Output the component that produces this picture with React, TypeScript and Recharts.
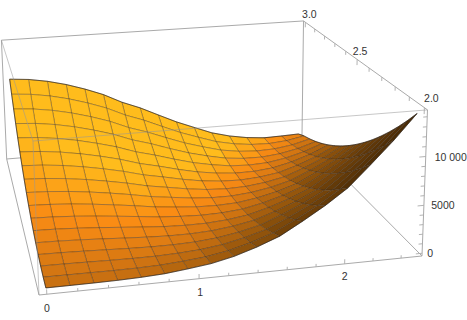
import React from 'react';
import { ScatterChart, Scatter, XAxis, YAxis } from 'recharts';

// ---- data ----
const xValues = [0, 0.15625, 0.3125, 0.46875, 0.625, 0.78125, 0.9375, 1.09375, 1.25, 1.40625, 1.5625, 1.71875, 1.875, 2.03125, 2.1875, 2.34375, 2.5];
const yValues = [2, 2.0625, 2.125, 2.1875, 2.25, 2.3125, 2.375, 2.4375, 2.5, 2.5625, 2.625, 2.6875, 2.75, 2.8125, 2.875, 2.9375, 3];
// one row per x value, one column per y value
const zRows = [
  [0, 39, 156, 352, 625, 977, 1406, 1914, 2500, 3164, 3906, 4727, 5625, 6602, 7656, 8789, 10000],
  [1, 28, 132, 315, 576, 915, 1332, 1828, 2401, 3053, 3782, 4590, 5476, 6440, 7482, 8603, 9801],
  [9, 11, 90, 248, 484, 798, 1190, 1661, 2209, 2836, 3540, 4323, 5184, 6123, 7140, 8236, 9409],
  [36, 0, 42, 163, 361, 638, 992, 1425, 1936, 2525, 3192, 3938, 4761, 5663, 6642, 7700, 8836],
  [100, 14, 6, 77, 225, 452, 756, 1139, 1600, 2139, 2756, 3452, 4225, 5077, 6006, 7014, 8100],
  [225, 77, 6, 14, 100, 264, 506, 827, 1225, 1702, 2256, 2889, 3600, 4389, 5256, 6202, 7225],
  [484, 248, 90, 11, 9, 86, 240, 473, 784, 1173, 1640, 2186, 2809, 3511, 4290, 5148, 6084],
  [784, 473, 240, 86, 9, 11, 90, 248, 484, 798, 1190, 1661, 2209, 2836, 3540, 4323, 5184],
  [1296, 885, 552, 298, 121, 23, 2, 60, 196, 410, 702, 1073, 1521, 2048, 2652, 3335, 4096],
  [2025, 1502, 1056, 689, 400, 189, 56, 2, 25, 127, 306, 564, 900, 1314, 1806, 2377, 3025],
  [2916, 2280, 1722, 1243, 841, 518, 272, 105, 16, 5, 72, 218, 441, 743, 1122, 1580, 2116],
  [4225, 3452, 2756, 2139, 1600, 1139, 756, 452, 225, 77, 6, 14, 100, 264, 506, 827, 1225],
  [5625, 4727, 3906, 3164, 2500, 1914, 1406, 977, 625, 352, 156, 39, 0, 39, 156, 352, 625],
  [7225, 6202, 5256, 4389, 3600, 2889, 2256, 1702, 1225, 827, 506, 264, 100, 14, 6, 77, 225],
  [9409, 8236, 7140, 6123, 5184, 4323, 3540, 2836, 2209, 1661, 1190, 798, 484, 248, 90, 11, 9],
  [11664, 10353, 9120, 7966, 6889, 5891, 4970, 4128, 3364, 2678, 2070, 1541, 1089, 716, 420, 203, 64],
  [14161, 12713, 11342, 10050, 8836, 7700, 6642, 5663, 4761, 3938, 3192, 2525, 1936, 1425, 992, 638, 150],
];
const xTicks = [0, 0.2, 0.4, 0.6, 0.8, 1, 1.2, 1.4, 1.6, 1.8, 2, 2.2, 2.4];
const xLabels = [0, 1, 2];
const yTicks = [2, 2.1, 2.2, 2.3, 2.4, 2.5, 2.6, 2.7, 2.8, 2.9, 3];
const yLabels = ['2.0', '2.5', '3.0'];
const zTicks = [0, 1000, 2000, 3000, 4000, 5000, 6000, 7000, 8000, 9000, 10000, 11000, 12000, 13000, 14000];
const zLabels = ['0', '5000', '10 000'];

// ---- plot box and camera ----
const X0 = -0.05, X1 = 2.55, Y0 = 1.98, Y1 = 3.02, Z0 = -288, Z1 = 14688;
const toCube = (x: number, y: number, z: number) => [(x - X0) / (X1 - X0), (y - Y0) / (Y1 - Y0), (z - Z0) / (Z1 - Z0)];
const depth = (u: number, v: number, w: number) => 1 + 0.0602 * u + 0.3214 * v - 0.03 * w;
const project = (x: number, y: number, z: number) => {
  const [u, v, w] = toCube(x, y, z);
  const d = depth(u, v, w);
  return {
    px: (39 + 408.4 * u - 30.15 * v - 7 * w) / d,
    py: (295 - 23.6 * u - 84.9 * v - 158.2 * w) / d,
  };
};

// ---- shading ----
const stops: [number, number[]][] = [
  [0, [72, 42, 6]],
  [0.35, [145, 84, 12]],
  [0.6, [212, 118, 18]],
  [0.78, [250, 140, 20]],
  [1, [255, 188, 28]],
];
const shade = (t0: number) => {
  const t = Math.max(0, Math.min(1, t0));
  for (let i = 1; i < stops.length; i++) {
    if (t <= stops[i][0]) {
      const [a, ca] = stops[i - 1];
      const [b, cb] = stops[i];
      const f = (t - a) / (b - a);
      return `rgb(${ca.map((c, k) => Math.round(c + (cb[k] - c) * f)).join(',')})`;
    }
  }
  return 'rgb(255,188,28)';
};

type Quad = { key: string; pts: { px: number; py: number }[]; fill: string; d: number };
const buildQuads = (): Quad[] => {
  const out: Quad[] = [];
  for (let i = 0; i < xValues.length - 1; i++) {
    for (let j = 0; j < yValues.length - 1; j++) {
      const c = [[i, j], [i + 1, j], [i + 1, j + 1], [i, j + 1]].map(([a, b]) => toCube(xValues[a], yValues[b], zRows[a][b]));
      const du = ((c[1][2] - c[0][2]) + (c[2][2] - c[3][2])) / 2 / (c[1][0] - c[0][0]);
      const dv = ((c[3][2] - c[0][2]) + (c[2][2] - c[1][2])) / 2 / (c[3][1] - c[0][1]);
      const sx = -0.4 * du, sy = -0.4 * dv;
      const len = Math.hypot(sx, sy, 1);
      const nu = sx / len, nv = sy / len, nw = 1 / len;
      const um = (c[0][0] + c[2][0]) / 2, vm = (c[0][1] + c[2][1]) / 2, wm = (c[0][2] + c[2][2]) / 2;
      const t = 0.65 + 0.5 * -nv + 0.56 * nu + 0.2 * vm - 0.1 * (1 - um) * (1 - vm) * 1.2 + 0.18 * (nw - 1);
      out.push({
        key: `q${i}-${j}`,
        pts: [[i, j], [i + 1, j], [i + 1, j + 1], [i, j + 1]].map(([a, b]) => project(xValues[a], yValues[b], zRows[a][b])),
        fill: shade(t),
        d: depth(um, vm, wm),
      });
    }
  }
  return out.sort((p, q) => q.d - p.d);
};
const quads = buildQuads();

const seg = (a: number[], b: number[]) => [project(a[0], a[1], a[2]), project(b[0], b[1], b[2])];
const backEdges = [
  seg([X0, Y1, Z1], [X1, Y1, Z1]), seg([X1, Y1, Z1], [X1, Y0, Z1]), seg([X0, Y1, Z0], [X1, Y1, Z0]),
  seg([X1, Y1, Z0], [X1, Y0, Z0]), seg([X0, Y1, Z0], [X0, Y0, Z0]), seg([X0, Y0, Z0], [X1, Y0, Z0]),
  seg([X0, Y1, Z0], [X0, Y1, Z1]), seg([X1, Y1, Z0], [X1, Y1, Z1]), seg([X1, Y0, Z0], [X1, Y0, Z1]),
];
const frontEdges = [seg([X0, Y0, Z1], [X0, Y1, Z1]), seg([X0, Y0, Z1], [X1, Y0, Z1]), seg([X0, Y0, Z0], [X0, Y0, Z1])];

const major = (v: number, list: (string | number)[]) => list.map(Number).includes(v);
const tickSegs = [
  ...xTicks.map((x) => seg([x, Y0, Z0], [x, Y0, Z0 + (major(x, xLabels) ? 480 : 300)])),
  ...yTicks.map((y) => seg([X1, y, Z1], [X1, y, Z1 - (major(y, yLabels) ? 650 : 420)])),
  ...zTicks.map((z) => seg([X1, Y0, z], [X1 - (major(z, [0, 5000, 10000]) ? 0.045 : 0.028), Y0, z])),
];

const rim = [
  ...xValues.map((x, i) => project(x, yValues[0], zRows[i][0])),
  ...yValues.map((y, j) => project(xValues[16], y, zRows[16][j])),
  ...xValues.map((x, i) => project(x, yValues[16], zRows[i][16])).reverse(),
  ...yValues.map((y, j) => project(xValues[0], y, zRows[0][j])).reverse(),
];

const labelOffset: Record<string, number[]> = {
  'x0': [0, 14], 'x1': [1, 13], 'x2': [0, 12],
  'y2.0': [7, -10], 'y2.5': [3, -8], 'y3.0': [4, -8],
  'z0': [8, 0], 'z5000': [19, 0], 'z10 000': [25, 0],
};
const labels = [
  ...xLabels.map((x) => ({ ...project(x, Y0, Z0), text: String(x), off: labelOffset['x' + x] })),
  ...yLabels.map((y) => ({ ...project(X1, Number(y), Z1), text: y, off: labelOffset['y' + y] })),
  ...zLabels.map((z) => ({ ...project(X1, Y0, Number(z.replace(' ', ''))), text: z, off: labelOffset['z' + z] })),
];

const nothing = () => <g />;
const polygon = (fill: string) => (p: any) => (
  <polygon
    points={p.points.map((q: any) => `${q.x},${q.y}`).join(' ')}
    fill={fill}
    stroke="rgba(48,38,28,0.5)"
    strokeWidth={0.65}
    strokeLinejoin="round"
  />
);
const edgeLine = (stroke: string, width: number) => (p: any) => (
  <polyline
    points={p.points.map((q: any) => `${q.x},${q.y}`).join(' ')}
    fill="none"
    stroke={stroke}
    strokeWidth={width}
  />
);
const labelShape = (p: any) => (
  <text
    x={p.cx + p.payload.off[0]}
    y={p.cy + p.payload.off[1]}
    textAnchor="middle"
    dominantBaseline="central"
    fontFamily="Liberation Sans"
    fontSize={10.5}
    fill="#333"
  >
    {p.payload.text}
  </text>
);

const seriesProps = { isAnimationActive: false, shape: nothing, lineType: 'joint' as const };

export default function App() {
  return (
    <div style={{ position: 'absolute', left: 0, top: 0 }}>
      <ScatterChart width={467} height={320} margin={{ top: 0, right: 0, bottom: 0, left: 0 }}>
        <XAxis type="number" dataKey="px" domain={[0, 467]} allowDataOverflow hide />
        <YAxis type="number" dataKey="py" domain={[0, 320]} reversed allowDataOverflow hide />
        {backEdges.map((e, i) => (
          <Scatter key={`b${i}`} data={e} {...seriesProps} line={edgeLine('#aaaaaa', 1)} />
        ))}
        {tickSegs.map((e, i) => (
          <Scatter key={`t${i}`} data={e} {...seriesProps} line={edgeLine('#aaaaaa', 0.9)} />
        ))}
        {quads.map((q) => (
          <Scatter key={q.key} data={q.pts} {...seriesProps} line={polygon(q.fill)} />
        ))}
        <Scatter data={rim} {...seriesProps} line={edgeLine('rgba(40,30,20,0.75)', 0.8)} />
        {frontEdges.map((e, i) => (
          <Scatter key={`f${i}`} data={e} {...seriesProps} line={edgeLine('rgba(150,150,150,0.6)', 0.9)} />
        ))}
        <Scatter data={labels} isAnimationActive={false} shape={labelShape} />
      </ScatterChart>
    </div>
  );
}
